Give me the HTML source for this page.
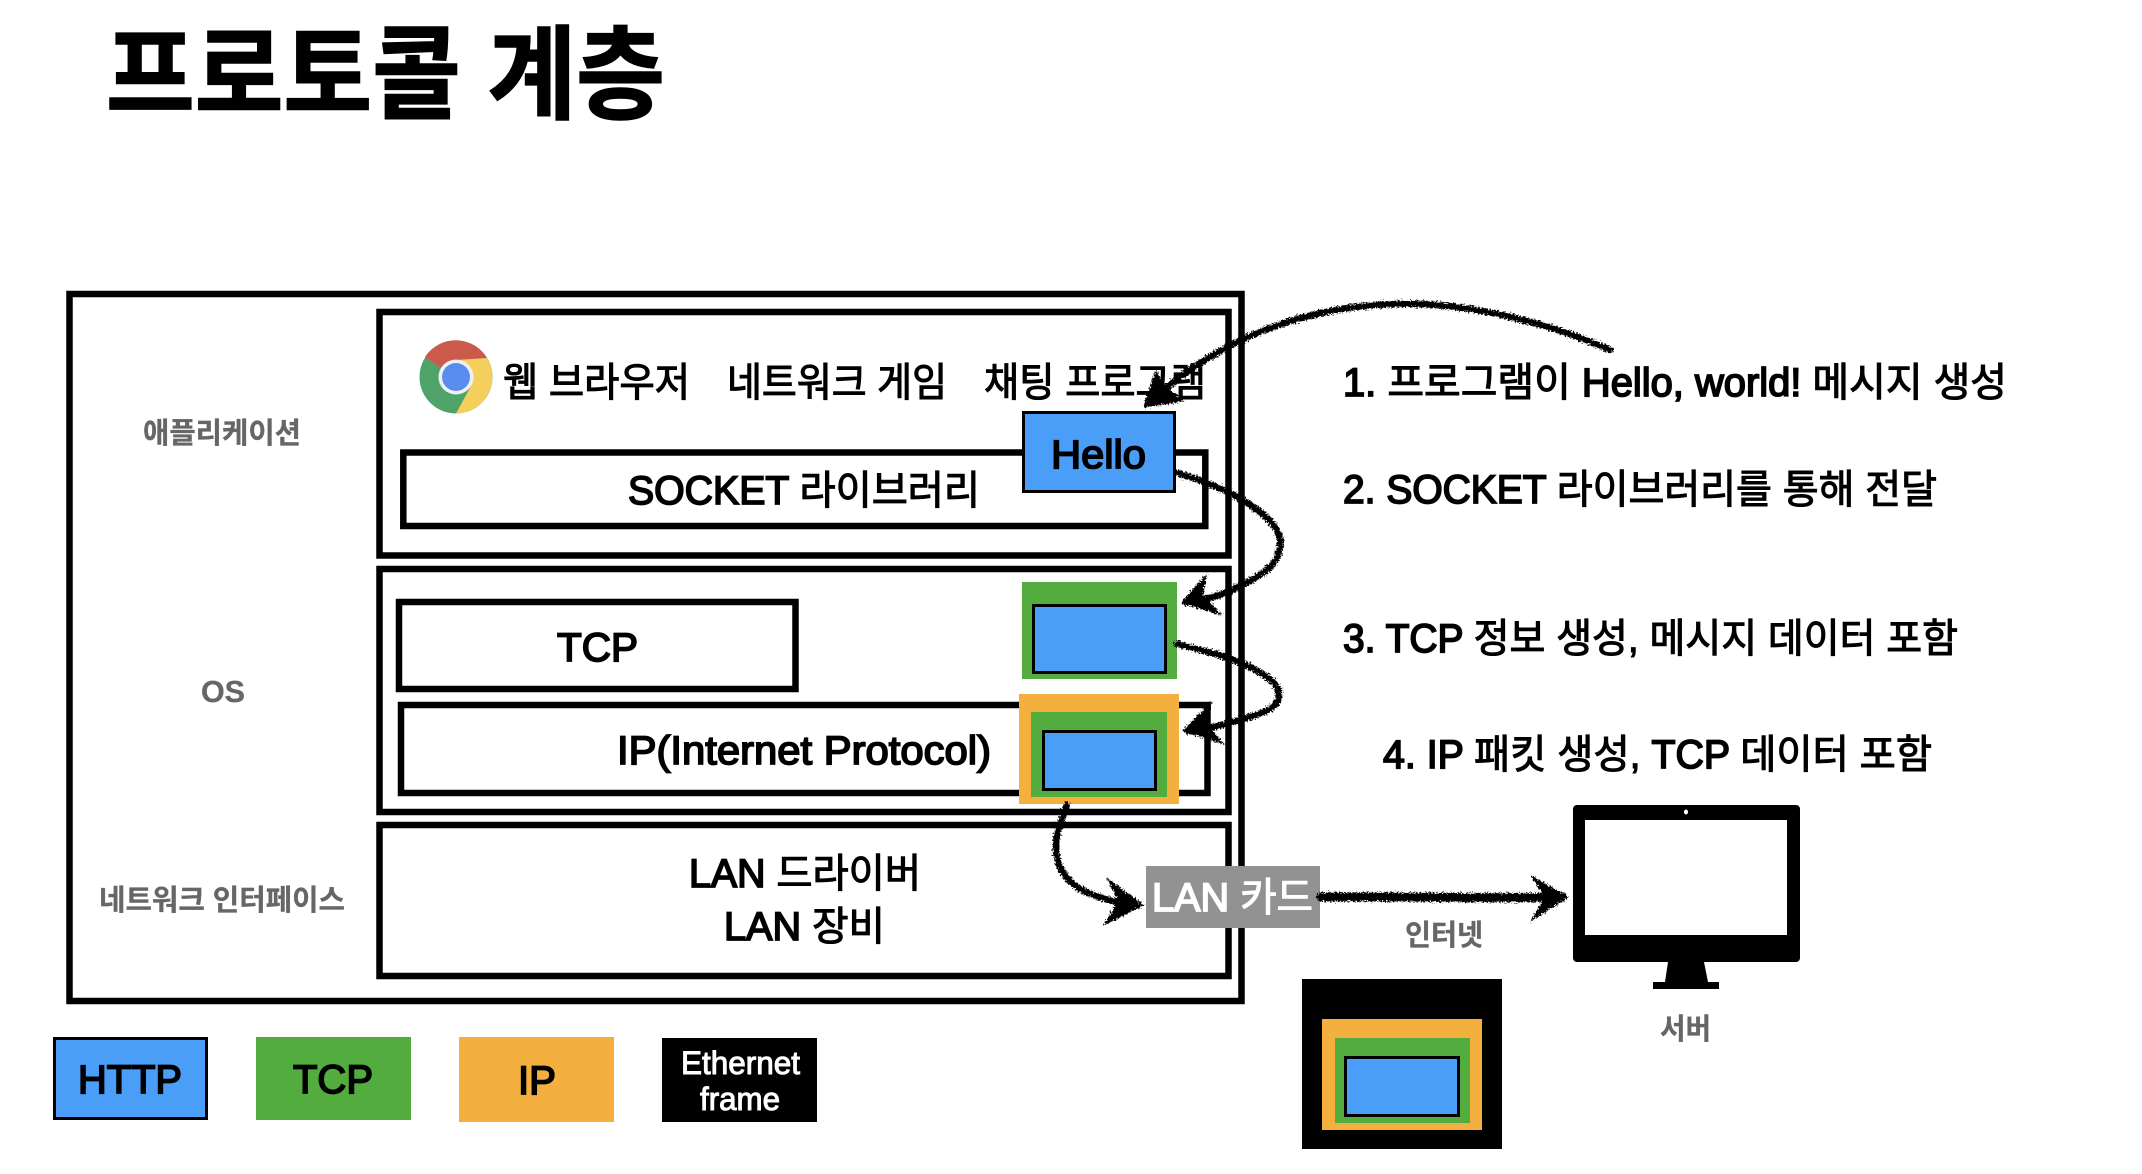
<!DOCTYPE html>
<html lang="ko"><head><meta charset="utf-8"><title>프로토콜 계층</title>
<style>
html,body{margin:0;padding:0;background:#fff}
svg{display:block}
text{font-family:"Liberation Sans","Noto Sans CJK KR",sans-serif;fill:#000;stroke:#000;stroke-width:1.1px;font-size:40px}
.t{font-size:102px;font-weight:700;stroke-width:1.5px}
.g{fill:#666;stroke:#666;font-size:29px;font-weight:700;stroke-width:.3px}
.w{fill:#fff;stroke:#fff}
.b{stroke-width:1.7px}
</style></head><body>
<svg xmlns="http://www.w3.org/2000/svg" width="2142" height="1174" viewBox="0 0 2142 1174">
<defs>
<filter id="r" filterUnits="userSpaceOnUse" x="0" y="0" width="2142" height="1174">
<feTurbulence type="fractalNoise" baseFrequency=".6" numOctaves="2" seed="3"/>
<feDisplacementMap in="SourceGraphic" scale="7" xChannelSelector="R" yChannelSelector="G"/>
</filter>
</defs>
<rect width="2142" height="1174" fill="#fff"/>

<text class="t" x="106" y="111" textLength="559" lengthAdjust="spacingAndGlyphs">프로토콜 계층</text>

<g fill="none" stroke="#000" stroke-width="6.5">
<rect x="69.5" y="294" width="1172" height="707"/>
<rect x="379.5" y="312" width="849" height="243.5"/>
<rect x="379.5" y="569" width="849" height="243"/>
<rect x="379.5" y="825" width="849" height="151"/>
<rect x="403.3" y="452.5" width="802" height="73.5"/>
<rect x="399" y="602" width="396.5" height="87"/>
<rect x="401" y="705" width="806.5" height="88"/>
</g>

<!-- chrome icon -->
<circle cx="456" cy="377" r="36.5" fill="#4fa268"/>
<path d="M425 357A36.5 36.5 0 0 1 487 358L456 360Q445 361 441 368Z" fill="#cb5a4b"/>
<path d="M487 358A36.5 36.5 0 0 1 456 413.500L471 386Q474 368 456 360Z" fill="#f5cf5c"/>
<circle cx="456" cy="377" r="17.500" fill="#eef0f4"/>
<circle cx="456" cy="377" r="14" fill="#5a8cef"/>

<text x="503" y="396" textLength="187" lengthAdjust="spacingAndGlyphs">웹 브라우저</text>
<text x="727" y="396" textLength="220" lengthAdjust="spacingAndGlyphs">네트워크 게임</text>
<text x="984" y="396" textLength="222" lengthAdjust="spacingAndGlyphs">채팅 프로그램</text>
<text x="628" y="504" textLength="352" lengthAdjust="spacingAndGlyphs"><tspan class="b">SOCKET</tspan> 라이브러리</text>
<text class="b" x="557" y="661" textLength="81" lengthAdjust="spacingAndGlyphs">TCP</text>
<text class="b" x="617" y="764" textLength="374" lengthAdjust="spacingAndGlyphs">IP(Internet Protocol)</text>
<text x="689" y="887" textLength="232" lengthAdjust="spacingAndGlyphs"><tspan class="b">LAN</tspan> 드라이버</text>
<text x="724" y="940" textLength="161" lengthAdjust="spacingAndGlyphs"><tspan class="b">LAN</tspan> 장비</text>

<text class="g" x="143" y="443" textLength="158" lengthAdjust="spacingAndGlyphs">애플리케이션</text>
<text class="g" x="201" y="702" textLength="44" lengthAdjust="spacingAndGlyphs" style="font-size:31px">OS</text>
<text class="g" x="99" y="910" textLength="246" lengthAdjust="spacingAndGlyphs">네트워크 인터페이스</text>
<text class="g" x="1405" y="945" textLength="78" lengthAdjust="spacingAndGlyphs">인터넷</text>
<text class="g" x="1660" y="1039" textLength="51" lengthAdjust="spacingAndGlyphs">서버</text>

<text x="1343" y="396" textLength="664" lengthAdjust="spacingAndGlyphs"><tspan class="b">1.</tspan> 프로그램이 <tspan class="b">Hello, world!</tspan> 메시지 생성</text>
<text x="1343" y="503" textLength="594" lengthAdjust="spacingAndGlyphs"><tspan class="b">2. SOCKET</tspan> 라이브러리를 통해 전달</text>
<text x="1343" y="652" textLength="615" lengthAdjust="spacingAndGlyphs"><tspan class="b">3. TCP</tspan> 정보 생성, 메시지 데이터 포함</text>
<text x="1383" y="768" textLength="549" lengthAdjust="spacingAndGlyphs"><tspan class="b">4. IP</tspan> 패킷 생성, <tspan class="b">TCP</tspan> 데이터 포함</text>

<!-- Hello -->
<rect x="1023.500" y="412.500" width="151" height="79" fill="#4a9ef8" stroke="#000" stroke-width="3"/>
<text class="b" x="1051" y="468" textLength="95" lengthAdjust="spacingAndGlyphs">Hello</text>
<!-- TCP packet -->
<rect x="1022" y="582" width="155" height="97" fill="#52ad3e"/>
<rect x="1033.500" y="605.500" width="132" height="67" fill="#4a9ef8" stroke="#000" stroke-width="3"/>
<!-- IP packet -->
<rect x="1019" y="694" width="160" height="110" fill="#f3b03f"/>
<rect x="1031" y="712" width="136" height="85" fill="#52ad3e"/>
<rect x="1043.500" y="731.500" width="112" height="58" fill="#4a9ef8" stroke="#000" stroke-width="3"/>
<!-- LAN card -->
<rect x="1146" y="866" width="174" height="62" fill="#929292"/>
<text class="w" x="1152" y="911" textLength="161" lengthAdjust="spacingAndGlyphs"><tspan class="b">LAN</tspan> 카드</text>

<!-- monitor -->
<rect x="1573" y="805" width="227" height="157" rx="4" fill="#000"/>
<rect x="1585" y="820" width="202" height="115" fill="#fff"/>
<ellipse cx="1686" cy="812" rx="2" ry="2.500" fill="#fff"/>
<path d="M1668 962H1704L1708 982H1719V989H1653V982H1665Z" fill="#000"/>

<!-- frame -->
<rect x="1302" y="979" width="200" height="170" fill="#000"/>
<rect x="1322" y="1019" width="160" height="111" fill="#f3b03f"/>
<rect x="1335" y="1038" width="135" height="85" fill="#52ad3e"/>
<rect x="1345.500" y="1057.500" width="113" height="58" fill="#4a9ef8" stroke="#000" stroke-width="3"/>

<!-- legend -->
<rect x="54.500" y="1038.500" width="152" height="80" fill="#4a9ef8" stroke="#000" stroke-width="3"/>
<rect x="256" y="1037" width="155" height="83" fill="#52ad3e"/>
<rect x="459" y="1037" width="155" height="85" fill="#f3b03f"/>
<rect x="662" y="1038" width="155" height="84" fill="#000"/>
<text class="b" x="78" y="1093" textLength="104" lengthAdjust="spacingAndGlyphs">HTTP</text>
<text class="b" x="293" y="1093" textLength="80" lengthAdjust="spacingAndGlyphs">TCP</text>
<text class="b" x="518" y="1094" textLength="38" lengthAdjust="spacingAndGlyphs">IP</text>
<text class="w" style="font-size:32px;stroke-width:1px" x="681" y="1074" textLength="119" lengthAdjust="spacingAndGlyphs">Ethernet</text>
<text class="w" style="font-size:32px;stroke-width:1px" x="700" y="1110" textLength="80" lengthAdjust="spacingAndGlyphs">frame</text>

<!-- sketch arrows -->
<g filter="url(#r)">
<g fill="none" stroke="#000" stroke-width="6.500" stroke-linecap="round">
<path d="M1610 350C1530 315 1450 302 1395 304C1330 306 1280 322 1239 341C1205 358 1180 375 1150 402"/>
<path d="M1177 473C1205 481 1225 490 1239 498C1268 515 1283 530 1280 548C1276 570 1255 578 1232 590C1215 598 1200 600 1186 603"/>
<path d="M1177 644C1210 652 1232 658 1248 666C1270 677 1280 685 1279 697C1277 710 1258 714 1240 720C1220 726 1205 729 1188 731"/>
<path d="M1067 805C1060 825 1055 835 1056 850C1057 870 1068 882 1082 890C1100 899 1120 903 1138 905"/>
<path d="M1321 897C1400 896 1490 899 1562 897" stroke-width="9"/>
</g>
<g fill="#000">
<path d="M1143 408L1156 369L1164 385L1185 401Z"/>
<path d="M1181 603L1207 573L1203 594L1223 616Z"/>
<path d="M1182 731L1212 701L1207 724L1225 745Z"/>
<path d="M1144 905L1107 878L1118 901L1103 926Z"/>
<path d="M1569 897L1530 875L1545 897L1530 922Z"/>
</g>
</g>
</svg>
</body></html>
